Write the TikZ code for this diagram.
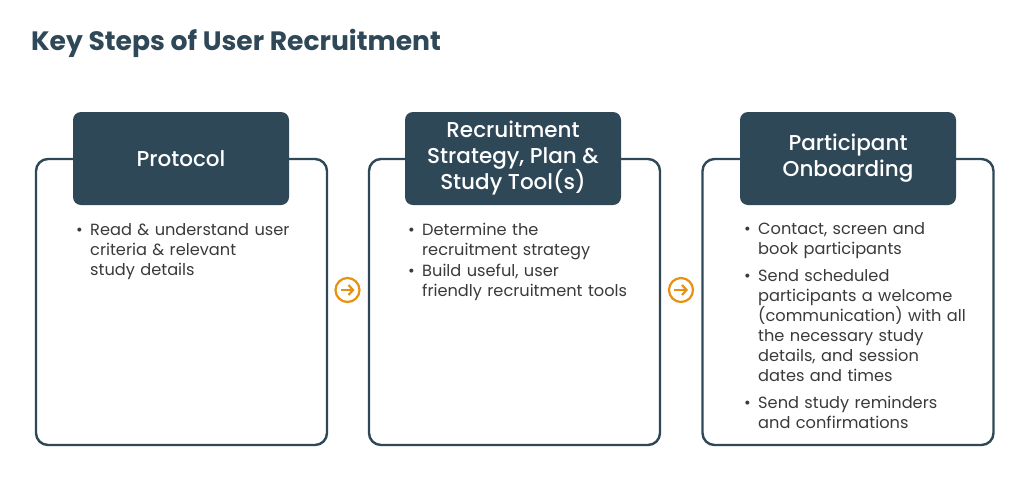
\documentclass[tikz,border=0pt]{standalone}
\usepackage{fontspec}
\setmainfont{Poppins}
\newfontfamily\medfont{Poppins}[UprightFont=* Medium]
\usepackage{xcolor}
\usepackage{tikz}
\usetikzlibrary{arrows.meta,positioning}
\definecolor{slate}{HTML}{2F4858}
\definecolor{bodygray}{HTML}{3A3A3A}
\definecolor{amber}{HTML}{E8900F}
\tikzset{
  outer/.style={rectangle, draw=slate, line width=2.4pt, fill=white, rounded corners=12pt,
    minimum width=291pt, minimum height=286pt, inner sep=0pt},
  head/.style={rectangle, fill=slate, rounded corners=8pt, minimum width=216pt,
    minimum height=93pt, align=center, text=white, font=\medfont\fontsize{21.5}{26}\selectfont, inner sep=0pt},
  body/.style={anchor=north west, align=left, text width=#1, inner sep=0pt, text=bodygray,
    font=\fontsize{16.2}{20}\selectfont},
  body/.default=250pt,
  nxt/.style={circle, draw=amber, line width=2.2pt, minimum size=24pt, inner sep=0pt},
  nxtarrow/.style={-{Straight Barb[length=4.5pt,width=10pt]}, line width=2.2pt, draw=amber},
}
\newcommand{\bul}[1]{\par\noindent\makebox[14pt][l]{\strut\textbullet}\parbox[t]{230pt}{\strut#1\strut}}
\newcommand{\gap}{\par\vspace{6pt}}
\begin{document}
\begin{tikzpicture}[x=1pt, y=-1pt]
  \useasboundingbox[fill=white] (0,0) rectangle (1024,477);
  \node[anchor=base west, text=slate, inner sep=0pt, font=\fontsize{26.6}{30}\selectfont\bfseries] (title) at (31,50) {Key Steps of User Recruitment};

  % step boxes
  \node[outer] (box1) at (181.5,302) {};
  \node[outer] (box2) at (514.5,302) {};
  \node[outer] (box3) at (848,302) {};

  \node[head] (head1) at (181,158.5) {Protocol};
  \node[head] (head2) at (513,158.5) {Recruitment\\ Strategy, Plan \&\\ Study Tool(s)};
  \node[head] (head3) at (848,158.5) {Participant\\ Onboarding};

  \node[body] (list1) at (76,215)
    {\bul{Read \& understand user\\ criteria \& relevant\\ study details}};
  \node[body] (list2) at (408,215)
    {\bul{Determine the\\ recruitment strategy}
     \bul{Build useful, user\\ friendly recruitment tools}};
  \node[body] (list3) at (744,214)
    {\bul{Contact, screen and\\ book participants}\gap
     \bul{Send scheduled\\ participants a welcome\\ (communication) with all\\ the necessary study\\ details, and session\\ dates and times}\gap
     \bul{Send study reminders\\ and confirmations}};

  % next-step markers
  \node[nxt] (go1) at (347.5,290) {};
  \node[nxt] (go2) at (681,290) {};
  \draw[nxtarrow] ([xshift=-7pt]go1.center) -- ([xshift=7pt]go1.center);
  \draw[nxtarrow] ([xshift=-7pt]go2.center) -- ([xshift=7pt]go2.center);
\end{tikzpicture}
\end{document}
